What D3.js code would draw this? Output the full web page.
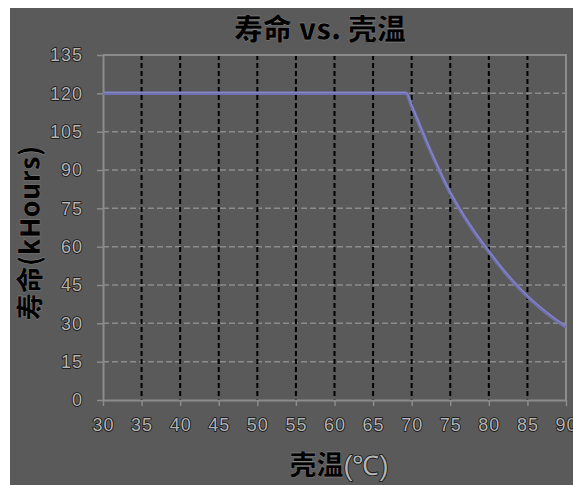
<!DOCTYPE html>
<html><head><meta charset="utf-8">
<script src="https://cdn.jsdelivr.net/npm/d3@7"></script>
<style>html,body{margin:0;padding:0;background:#fff;}svg{display:block;}</style>
</head><body>
<script>
const temps = [30, 69.3, 70, 72.5, 75, 77.5, 80, 82.5, 85, 87.5, 90];
const life = [120, 120, 115, 97, 81, 68.5, 58, 48.5, 40.5, 34, 28.5];
const xTicks = [30, 35, 40, 45, 50, 55, 60, 65, 70, 75, 80, 85, 90];
const yTicks = [0, 15, 30, 45, 60, 75, 90, 105, 120, 135];
const title = "寿命 vs. 壳温";
const yLabel = "寿命(kHours)";

const W = 573, H = 485;
const m = {l: 103, r: 7, t: 55, b: 85};
const svg = d3.select("body").append("svg").attr("width", W).attr("height", H);
svg.append("rect").attr("x", 10).attr("y", 8).attr("width", W - 10).attr("height", H - 8).attr("fill", "#5a5a5a");

const x = d3.scaleLinear().domain([30, 90]).range([m.l, W - m.r]);
const y = d3.scaleLinear().domain([0, 135]).range([H - m.b, m.t]);
const g = svg.append("g");

g.selectAll(".hg").data(yTicks.filter(d => d > 0 && d < 135)).join("line")
  .attr("x1", x(30)).attr("x2", x(90)).attr("y1", d => y(d)).attr("y2", d => y(d))
  .attr("stroke", "#8c8c8c").attr("stroke-width", 1.5).attr("stroke-dasharray", "6,3");
g.selectAll(".vg").data(xTicks.filter(d => d > 30 && d < 90)).join("line")
  .attr("x1", d => x(d)).attr("x2", d => x(d)).attr("y1", y(135)).attr("y2", y(0))
  .attr("stroke", "#000").attr("stroke-width", 2).attr("stroke-dasharray", "5,3");
g.append("path").attr("d", `M${x(30)},${y(135)}H${x(90)}V${y(0)}`).attr("fill", "none")
  .attr("stroke", "#8c8c8c").attr("stroke-width", 2);

const textStyle = s => s.attr("font-family", "'Liberation Sans', Arial, sans-serif")
  .attr("fill", "#b4b4b4").attr("stroke", "#111").attr("stroke-width", 1.6)
  .attr("paint-order", "stroke").attr("stroke-linejoin", "round");

const xAxis = svg.append("g").attr("transform", `translate(0,${y(0)})`)
  .call(d3.axisBottom(x).tickValues(xTicks).tickSize(6).tickPadding(12).tickSizeOuter(0));
const yAxis = svg.append("g").attr("transform", `translate(${x(30)},0)`)
  .call(d3.axisLeft(y).tickValues(yTicks).tickSize(6).tickPadding(14).tickSizeOuter(0));
[xAxis, yAxis].forEach(a => {
  a.select(".domain").attr("stroke", "#8c8c8c").attr("stroke-width", 2);
  a.selectAll(".tick line").attr("stroke", "#8c8c8c").attr("stroke-width", 1.5);
  a.selectAll(".tick text").attr("font-size", 18).attr("letter-spacing", 1)
    .call(textStyle);
});

const line = d3.line().x((d, i) => x(temps[i])).y(d => y(d)).curve(d3.curveMonotoneX);
svg.append("path").datum(life).attr("d", line).attr("fill", "none")
  .attr("stroke", "#7070b2").attr("stroke-width", 3.5).attr("stroke-linejoin", "round");
svg.append("path").datum(life).attr("d", line).attr("fill", "none")
  .attr("stroke", "#8c8cc8").attr("stroke-width", 1).attr("transform", "translate(0,-1)");

svg.append("text").attr("x", 320).attr("y", 40).attr("text-anchor", "middle")
  .attr("font-family", "'Noto Sans CJK SC', sans-serif").attr("font-weight", "900")
  .attr("font-size", 29).attr("fill", "#000").attr("stroke", "#999").attr("stroke-width", 0.4)
  .text(title);

svg.append("text").attr("transform", "translate(40,233) rotate(-90)").attr("text-anchor", "middle")
  .attr("font-family", "'Noto Sans CJK SC', sans-serif").attr("font-weight", "900")
  .attr("font-size", 27).attr("fill", "#000").attr("stroke", "#999").attr("stroke-width", 0.4)
  .text(yLabel);

const xl = svg.append("text").attr("x", 339).attr("y", 475).attr("text-anchor", "middle")
  .attr("font-family", "'Noto Sans CJK SC', sans-serif").attr("font-size", 27);
xl.append("tspan").attr("font-weight", "900").attr("fill", "#000").attr("stroke", "#999").attr("stroke-width", 0.4).text("壳温");
xl.append("tspan").attr("font-family", "'Liberation Sans', Arial, sans-serif").attr("fill", "#b4b4b4")
  .attr("stroke", "#111").attr("stroke-width", 1.6).attr("paint-order", "stroke").attr("stroke-linejoin", "round").text("(℃)");
</script>
</body></html>
